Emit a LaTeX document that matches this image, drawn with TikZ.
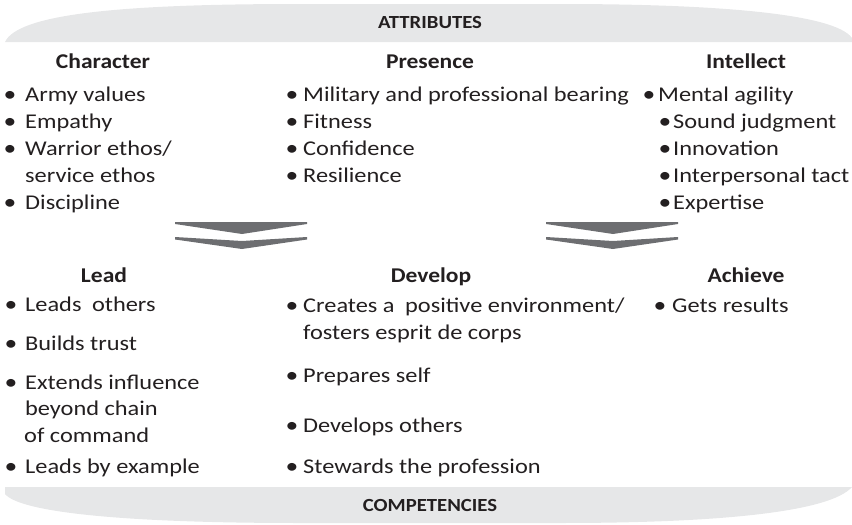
\documentclass[tikz,border=0pt]{standalone}
\usepackage{fontspec}
\setmainfont{Carlito}[FakeStretch=1.16]
\newfontfamily\headfont{Carlito}[FakeStretch=1.12]
\definecolor{txt}{HTML}{231F20}
\definecolor{bandgray}{HTML}{E6E7E8}
\definecolor{chev}{HTML}{6D6E71}
\tikzset{
  item/.style={anchor=base west, inner sep=0pt, font=\fontsize{21}{25}\selectfont, text=txt},
  bul/.style={anchor=base, inner sep=0pt, font=\fontsize{22}{25}\selectfont, text=txt},
  head/.style={anchor=base, inner sep=0pt, font=\headfont\fontsize{21}{25}\selectfont\bfseries, text=txt},
  bandtitle/.style={anchor=base, inner sep=0pt, font=\headfont\fontsize{18.5}{22}\selectfont\bfseries, text=txt},
  bandshape/.style={fill=bandgray, draw=none},
  chevron/.style={fill=chev, draw=none}
}
\begin{document}
\begin{tikzpicture}[x=1pt,y=-1pt]
\useasboundingbox (0,0) rectangle (852,525);
% banners
\fill[bandshape] (5,42) .. controls (18,14) and (120,4) .. (300,4) -- (560,4)
  .. controls (720,4) and (835,14) .. (852,38) -- (852,42) -- cycle;
\fill[bandshape] (5,487) -- (852,487) .. controls (830,512) and (720,523) .. (560,523)
  -- (300,523) .. controls (120,523) and (20,512) .. (5,494) -- cycle;
\node[bandtitle] (attr) at (430,28) {ATTRIBUTES};
\node[bandtitle] (comp) at (430,511) {COMPETENCIES};
% chevrons
\foreach \dx in {0,371}{
  \begin{scope}[xshift=\dx]
  \fill[chevron] (175,222) -- (307,222) -- (307,224) -- (242,234) -- (175,224) -- cycle;
  \fill[chevron] (175,237) -- (242,241) -- (307,237) -- (307,239.5) -- (242,249) -- (175,239.5) -- cycle;
  \end{scope}
}
% headings
\node[head] (hchar) at (103,68) {Character};
\node[head] (hpres) at (430,68) {Presence};
\node[head] (hint) at (746,68) {Intellect};
\node[head] (hlead) at (104,282) {Lead};
\node[head] (hdev) at (431,282) {Develop};
\node[head] (hach) at (746,282) {Achieve};
% Character
\node[bul] (bc1) at (10,101) {•}; \node[item] (c1) at (25,101) {Army values};
\node[bul] (bc2) at (10,128) {•}; \node[item] (c2) at (25,128) {Empathy};
\node[bul] (bc3) at (10,155) {•}; \node[item] (c3) at (25,155) {Warrior ethos/};
\node[item] (c3b) at (25,182) {service ethos};
\node[bul] (bc4) at (10,209) {•}; \node[item] (c4) at (25,209) {Discipline};
% Presence
\node[bul] (bp1) at (292,101) {•}; \node[item] (p1) at (303,101) {Military and professional bearing};
\node[bul] (bp2) at (292,128) {•}; \node[item] (p2) at (303,128) {Fitness};
\node[bul] (bp3) at (292,155) {•}; \node[item] (p3) at (303,155) {Confidence};
\node[bul] (bp4) at (292,182) {•}; \node[item] (p4) at (303,182) {Resilience};
% Intellect
\node[bul] (bi1) at (649,101) {•}; \node[item] (i1) at (658,101) {Mental agility};
\node[bul] (bi2) at (665,128) {•}; \node[item] (i2) at (673,128) {Sound judgment};
\node[bul] (bi3) at (665,155) {•}; \node[item] (i3) at (673,155) {Innovation};
\node[bul] (bi4) at (665,182) {•}; \node[item] (i4) at (673,182) {Interpersonal tact};
\node[bul] (bi5) at (665,209) {•}; \node[item] (i5) at (673,209) {Expertise};
% Lead
\node[bul] (bl1) at (11,311) {•}; \node[item] (l1) at (25,311) {Leads\hspace{5pt} others};
\node[bul] (bl2) at (11,350) {•}; \node[item] (l2) at (25,350) {Builds trust};
\node[bul] (bl3) at (11,389) {•}; \node[item] (l3) at (25,389) {Extends influence};
\node[item] (l3b) at (25,415) {beyond chain};
\node[item] (l3c) at (24,442) {of command};
\node[bul] (bl4) at (11,473) {•}; \node[item] (l4) at (25,473) {Leads by example};
% Develop
\node[bul] (bd1) at (292,312) {•}; \node[item] (d1) at (303,312) {Creates a\hspace{5pt} positive environment/};
\node[item] (d1b) at (303,339) {fosters esprit de corps};
\node[bul] (bd2) at (292,382) {•}; \node[item] (d2) at (303,382) {Prepares self};
\node[bul] (bd3) at (292,432) {•}; \node[item] (d3) at (303,432) {Develops others};
\node[bul] (bd4) at (292,473) {•}; \node[item] (d4) at (303,473) {Stewards the profession};
% Achieve
\node[bul] (ba1) at (660,312) {•}; \node[item] (a1) at (672,312) {Gets results};
\end{tikzpicture}
\end{document}
